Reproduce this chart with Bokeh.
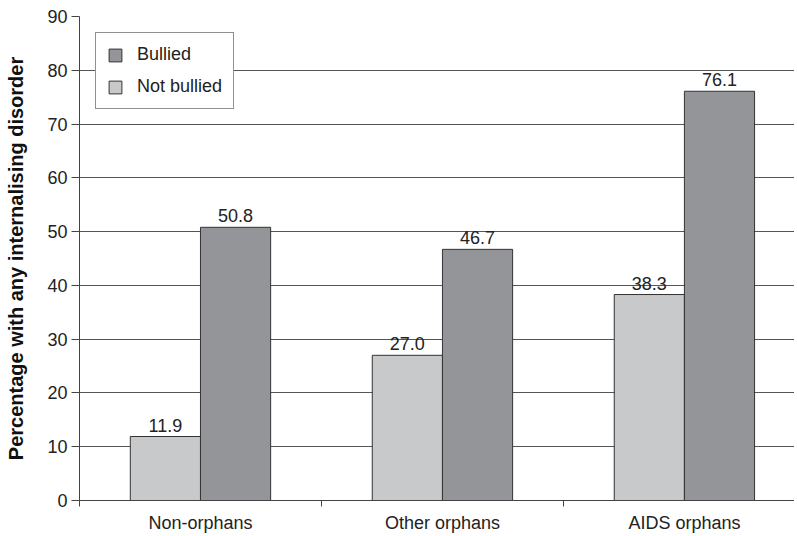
from bokeh.plotting import figure
from bokeh.models import ColumnDataSource, Range1d, FixedTicker, Legend, LegendItem
from bokeh.core.properties import value
from bokeh.embed import file_html
from bokeh.resources import INLINE

categories = ["Non-orphans", "Other orphans", "AIDS orphans"]
not_bullied = [11.9, 27.0, 38.3]
bullied = [50.8, 46.7, 76.1]
y_ticks = [0, 10, 20, 30, 40, 50, 60, 70, 80, 90]

FONT = "Liberation Sans"
FS = "18px"
centers = [i + 0.5 for i in range(len(categories))]
bw = 0.29

src_nb = ColumnDataSource(dict(x=[c - bw / 2 for c in centers], top=not_bullied,
                               lab=[f"{v:.1f}" for v in not_bullied]))
src_b = ColumnDataSource(dict(x=[c + bw / 2 for c in centers], top=bullied,
                              lab=[f"{v:.1f}" for v in bullied]))

p = figure(width=794, height=535, output_backend="svg", toolbar_location=None,
           x_range=Range1d(0, 2.955), y_range=Range1d(0, 90),
           min_border_left=79, min_border_right=0, min_border_top=16, min_border_bottom=34)
p.outline_line_color = None
p.background_fill_color = "white"
p.border_fill_color = "white"

r_nb = p.vbar(x="x", top="top", width=bw, bottom=0, source=src_nb,
              fill_color="#c8c9cb", line_color="#333333", line_width=1)
r_b = p.vbar(x="x", top="top", width=bw, bottom=0, source=src_b,
             fill_color="#939598", line_color="#333333", line_width=1)

for src in (src_nb, src_b):
    p.text(x="x", y="top", text="lab", source=src, text_align="center",
           text_baseline="bottom", y_offset=-5, text_font=value(FONT),
           text_font_size=FS, text_color="#222222")

# x axis: category labels at centres, tick marks at category boundaries
p.xaxis.ticker = FixedTicker(ticks=centers, minor_ticks=[0, 1, 2, 3])
p.xaxis.major_label_overrides = {c: lab for c, lab in zip(centers, categories)}
p.xaxis.major_tick_out = 0
p.xaxis.major_tick_in = 0
p.xaxis.minor_tick_out = 6
p.xaxis.minor_tick_in = 0
p.xaxis.minor_tick_line_color = "#444444"
p.xaxis.axis_line_color = "#444444"
p.xaxis.major_label_standoff = 6
p.xaxis.major_label_text_font = FONT
p.xaxis.major_label_text_font_size = FS
p.xaxis.major_label_text_color = "#222222"
p.xgrid.grid_line_color = None

p.yaxis.ticker = FixedTicker(ticks=y_ticks, minor_ticks=[])
p.yaxis.major_tick_out = 8
p.yaxis.major_tick_in = 0
p.yaxis.major_tick_line_color = "#444444"
p.yaxis.axis_line_color = "#444444"
p.yaxis.major_label_standoff = 4
p.yaxis.major_label_text_font = FONT
p.yaxis.major_label_text_font_size = FS
p.yaxis.major_label_text_color = "#222222"
p.yaxis.axis_label = "Percentage with any internalising disorder"
p.yaxis.axis_label_text_font = FONT
p.yaxis.axis_label_text_font_style = "bold"
p.yaxis.axis_label_text_font_size = "20px"
p.yaxis.axis_label_text_color = "#111111"
p.yaxis.axis_label_standoff = 17
p.ygrid.grid_line_color = "#555555"
p.ygrid.grid_line_width = 1

legend = Legend(items=[LegendItem(label="Bullied", renderers=[r_b]),
                       LegendItem(label="Not bullied", renderers=[r_nb])],
                location="top_left")
legend.margin = 16
legend.padding = 11
legend.spacing = 11
legend.glyph_width = 16
legend.glyph_height = 16
legend.label_height = 20
legend.label_standoff = 14
legend.label_text_font = FONT
legend.label_text_font_size = FS
legend.label_text_color = "#222222"
legend.border_line_color = "#222222"
legend.border_line_width = 1
legend.background_fill_color = "white"
legend.background_fill_alpha = 1
p.add_layout(legend, "center")

open("out.html", "w").write(file_html(p, INLINE))
